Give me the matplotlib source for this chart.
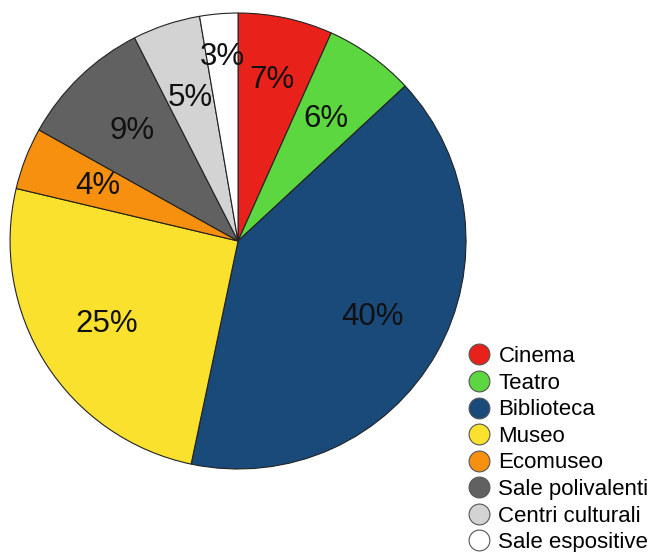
import matplotlib
matplotlib.use("Agg")
import matplotlib.pyplot as plt
from matplotlib.lines import Line2D
import numpy as np

plt.rcParams['font.family'] = ['Liberation Sans', 'DejaVu Sans']

# values (percent)
categories = ["Cinema", "Teatro", "Biblioteca", "Museo", "Ecomuseo",
              "Sale polivalenti", "Centri culturali", "Sale espositive"]
values = [6.7, 6.4, 40.2, 25.4, 4.4, 9.4, 4.8, 2.7]
colors = ["#E8221B", "#5DD73F", "#1A4A7A", "#FAE12E", "#F7900F",
          "#616161", "#D3D3D3", "#FFFFFF"]
# label distance from centre for each slice
label_r = [0.72, 0.66, 0.68, 0.68, 0.66, 0.67, 0.66, 0.81]

fig = plt.figure(figsize=(6.51, 5.52), dpi=100)
ax = fig.add_axes([0.0154, 0.1504, 0.7005, 0.826])

wedges, texts, autotexts = ax.pie(values, colors=colors, startangle=90,
                                  counterclock=False, radius=1,
                                  autopct=lambda p: "%d%%" % round(p),
                                  pctdistance=0.67,
                                  wedgeprops=dict(edgecolor="#222222", linewidth=0.8),
                                  textprops=dict(fontsize=22.5, color="#111111"))

for w, t, r in zip(wedges, autotexts, label_r):
    ang = np.deg2rad((w.theta1 + w.theta2) / 2)
    t.set_position((r * np.cos(ang), r * np.sin(ang)))

ax.set_xlim(-1.0, 1.0)
ax.set_ylim(-1.0, 1.0)
ax.set_aspect("equal")
ax.axis("off")

handles = [Line2D([], [], marker="o", linestyle="", markersize=15,
                  markerfacecolor=c, markeredgecolor="#555555", markeredgewidth=0.8)
           for c in colors]
fig.legend(handles, categories, loc="lower right", bbox_to_anchor=(1.003, -0.01),
           frameon=False, fontsize=16, labelspacing=0.25, handletextpad=0.25,
           borderaxespad=0.0, borderpad=0.2, handlelength=1.2)

fig.savefig("out.png", dpi=100)
